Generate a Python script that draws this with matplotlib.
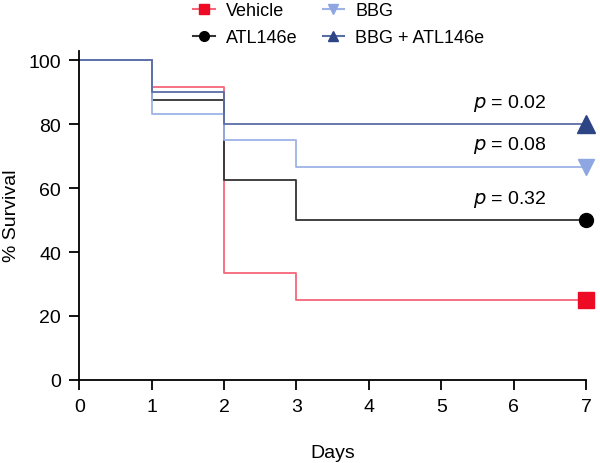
import matplotlib.pyplot as plt
from matplotlib.lines import Line2D

plt.rcParams['font.family'] = ['Liberation Sans', 'DejaVu Sans']

# survival curves (day, % survival)
days = [0, 1, 2, 3, 7]
vehicle = [100, 91.7, 33.3, 25, 25]
atl146e = [100, 87.5, 62.5, 50, 50]
bbg = [100, 83.3, 75, 66.7, 66.7]
bbg_atl = [100, 90, 80, 80, 80]

p_labels = ['$p$ = 0.02', '$p$ = 0.08', '$p$ = 0.32']
p_values = [80, 66.7, 50]

fig = plt.figure(figsize=(6, 4.64), dpi=100)
ax = fig.add_axes([0.132, 0.179, 0.845, 0.71])

series = [
    ('Vehicle', vehicle, '#f4677a', '#ec0a25', 's', 11),
    ('ATL146e', atl146e, '#333333', 'black', 'o', 10),
    ('BBG', bbg, '#9db3e8', '#8ea7e3', 'v', 12),
    ('BBG + ATL146e', bbg_atl, '#5a6ea6', '#2e4585', '^', 13),
]

handles = []
for name, vals, lc, mc, mk, ms in series:
    ax.step(days, vals, where='post', color=lc, lw=1.3)
    ax.plot(days[-1], vals[-1], marker=mk, color=mc, ms=ms, ls='none', clip_on=False, zorder=5)
    handles.append(Line2D([], [], color=lc, lw=1.5, marker=mk, mfc=mc, mec=mc, ms=7))

for lab, v in zip(p_labels, p_values):
    ax.text(5.95, v + 3.5, lab, fontsize=14, ha='center', va='bottom')

ax.set_xlim(0, 7)
ax.set_ylim(0, 103)
ax.set_xticks(range(8))
ax.set_yticks(range(0, 101, 20))
ax.set_xlabel('Days', fontsize=14, labelpad=21)
ax.set_ylabel('% Survival', fontsize=14, labelpad=6)
ax.tick_params(labelsize=14, width=1.3, length=7, pad=6)
for s in ['top', 'right']:
    ax.spines[s].set_visible(False)
for s in ['left', 'bottom']:
    ax.spines[s].set_linewidth(1.3)

fig.legend(handles, [s[0] for s in series],
           ncol=2, loc='upper left', bbox_to_anchor=(0.295, 1.028), frameon=False,
           fontsize=13, handlelength=1.2, handletextpad=0.6, columnspacing=1.4,
           labelspacing=0.55)

fig.savefig('out.png', dpi=100)
